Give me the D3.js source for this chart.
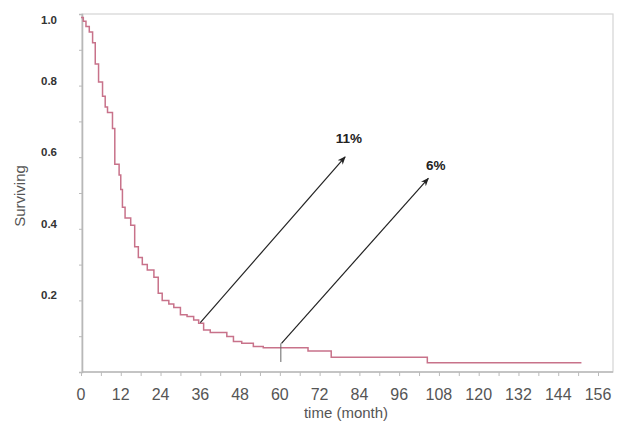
<!DOCTYPE html>
<html>
<head>
<meta charset="utf-8">
<script src="https://cdn.jsdelivr.net/npm/d3@7"></script>
<style>
body { margin: 0; background: #fff; }
</style>
</head>
<body>
<script>
// Kaplan-Meier steps: month where the step starts, survival from there on
var months = [0, 0.7, 1.5, 2.5, 3.5, 4.3, 5.3, 6.5, 7.3, 8.0, 9.5, 10.2, 11.5, 12.0, 12.5, 13.3, 15.0, 16.2, 17.3, 18.5,
              20.0, 22.0, 23.3, 24.5, 26.5, 28.0, 30.0, 32.0, 34.0, 35.5, 37.0, 39.0, 44.0, 46.0, 48.5, 52.0, 55.0,
              68.5, 75.5, 104.5, 151];
var surv = [0.99, 0.98, 0.965, 0.95, 0.92, 0.86, 0.81, 0.77, 0.74, 0.725, 0.68, 0.58, 0.55, 0.51, 0.46, 0.43, 0.41, 0.35, 0.32, 0.30,
            0.285, 0.265, 0.22, 0.20, 0.19, 0.18, 0.16, 0.155, 0.145, 0.136, 0.117, 0.110, 0.099, 0.085, 0.080, 0.071, 0.068,
            0.059, 0.041, 0.026, 0.026];

var xTicks = d3.range(0, 157, 12);
var xMinor = d3.range(0, 157, 6);
var yTicks = [0.2, 0.4, 0.6, 0.8, 1.0];
var yMinor = d3.range(0, 1.01, 0.1);

// annotations: [label, start month, start value, tip month, tip value, label month, label value]
var notes = [
    ["11%", 36, 0.138, 79.7, 0.601, 76.9, 0.640],
    ["6%", 60.5, 0.08, 104.8, 0.541, 104.1, 0.564]
];

var W = 617, H = 421;
var svg = d3.select("body").append("svg")
    .attr("width", W)
    .attr("height", H);

var x = d3.scaleLinear().domain([0, 156]).range([81, 598]);
var y = d3.scaleLinear().domain([0, 1]).range([372, 14]);

// frame
svg.append("rect")
    .attr("x", 82).attr("y", 14)
    .attr("width", 613 - 82).attr("height", 372 - 14)
    .attr("fill", "none")
    .attr("stroke", "#d4d4d4")
    .attr("stroke-width", 1.2);

// y axis
var yAxis = svg.append("g")
    .attr("transform", "translate(82,0)")
    .call(d3.axisLeft(y).tickValues(yMinor).tickSize(3).tickFormat(""));
yAxis.select(".domain").attr("stroke", "#b8b8b8").attr("stroke-width", 1.6);
yAxis.selectAll(".tick line").attr("stroke", "#bbb");

svg.append("g").selectAll("text")
    .data(yTicks)
    .enter()
    .append("text")
    .attr("x", 57)
    .attr("y", function (d) { return y(d) + (d == 1 ? 6 : -5); })
    .attr("dy", "0.35em")
    .attr("text-anchor", "end")
    .attr("font-family", "Liberation Sans, Arial, sans-serif")
    .attr("font-weight", "bold")
    .attr("font-size", "11.5px")
    .attr("fill", "#333")
    .text(function (d) { return d.toFixed(1); });

// x axis
var xAxis = svg.append("g")
    .attr("transform", "translate(0,372)")
    .call(d3.axisBottom(x).tickValues(xMinor).tickSize(4).tickFormat(""));
xAxis.select(".domain").attr("stroke", "#b8b8b8").attr("stroke-width", 1.6)
    .attr("d", "M82,0H613");
xAxis.selectAll(".tick line").attr("stroke", "#bbb");

svg.append("g").selectAll("text")
    .data(xTicks)
    .enter()
    .append("text")
    .attr("x", function (d) { return x(d); })
    .attr("y", 400)
    .attr("text-anchor", "middle")
    .attr("font-family", "Liberation Sans, Arial, sans-serif")
    .attr("font-size", "16px")
    .attr("fill", "#555")
    .text(function (d) { return d; });

svg.append("text")
    .attr("x", 346)
    .attr("y", 418)
    .attr("text-anchor", "middle")
    .attr("font-family", "Liberation Sans, Arial, sans-serif")
    .attr("font-size", "15px")
    .attr("fill", "#555")
    .text("time (month)");

svg.append("text")
    .attr("transform", "translate(25,196) rotate(-90)")
    .attr("text-anchor", "middle")
    .attr("font-family", "Liberation Sans, Arial, sans-serif")
    .attr("font-size", "15px")
    .attr("fill", "#555")
    .text("Surviving");

// survival curve
var pts = months.map(function (m, i) { return [m, surv[i]]; });
var line = d3.line()
    .x(function (d) { return x(d[0]); })
    .y(function (d) { return y(d[1]); })
    .curve(d3.curveStepAfter);

svg.append("path")
    .datum(pts)
    .attr("d", line)
    .attr("fill", "none")
    .attr("stroke", "#c8728a")
    .attr("stroke-width", 1.5);

// censor mark at 60 months
svg.append("line")
    .attr("x1", x(60.3)).attr("x2", x(60.3))
    .attr("y1", y(0.08)).attr("y2", y(0.028))
    .attr("stroke", "#666")
    .attr("stroke-width", 1);

// arrows
svg.append("defs").append("marker")
    .attr("id", "head")
    .attr("viewBox", "0 0 10 10")
    .attr("refX", 9).attr("refY", 5)
    .attr("markerWidth", 7).attr("markerHeight", 7)
    .attr("orient", "auto")
    .append("path")
    .attr("d", "M0,1 L10,5 L0,9 L3,5 Z")
    .attr("fill", "#222");

svg.selectAll(".arrow")
    .data(notes)
    .enter()
    .append("line")
    .attr("class", "arrow")
    .attr("x1", function (d) { return x(d[1]); })
    .attr("y1", function (d) { return y(d[2]); })
    .attr("x2", function (d) { return x(d[3]); })
    .attr("y2", function (d) { return y(d[4]); })
    .attr("stroke", "#222")
    .attr("stroke-width", 1.2)
    .attr("marker-end", "url(#head)");

svg.selectAll(".note")
    .data(notes)
    .enter()
    .append("text")
    .attr("class", "note")
    .attr("x", function (d) { return x(d[5]); })
    .attr("y", function (d) { return y(d[6]); })
    .attr("font-family", "Liberation Sans, Arial, sans-serif")
    .attr("font-weight", "bold")
    .attr("font-size", "13.5px")
    .attr("fill", "#222")
    .text(function (d) { return d[0]; });
</script>
</body>
</html>
